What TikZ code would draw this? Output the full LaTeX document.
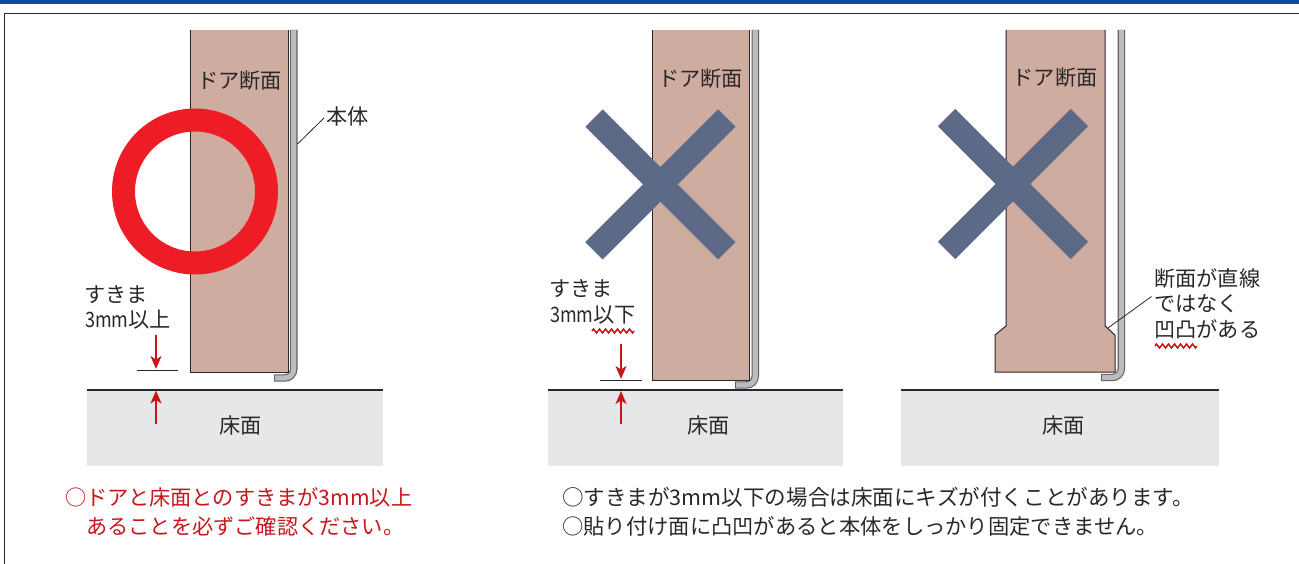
\documentclass[tikz,border=0pt]{standalone}
\usepackage{fontspec}
\setmainfont{Noto Sans CJK JP}
\usetikzlibrary{arrows.meta,decorations.pathmorphing}
\definecolor{barblue}{HTML}{0C4DA2}
\definecolor{doorc}{HTML}{CEADA0}
\definecolor{floorc}{HTML}{E6E7E8}
\definecolor{ink}{HTML}{2B2728}
\definecolor{ringred}{HTML}{EE1C25}
\definecolor{arrred}{HTML}{C8161D}
\definecolor{xblue}{HTML}{5D6A87}
\definecolor{stripc}{HTML}{BABCBF}
\tikzset{
  txt/.style={inner sep=0pt,text=ink,font=\fontsize{21.2pt}{25pt}\selectfont},
  redtxt/.style={txt,text=arrred},
  doorline/.style={draw=ink,line width=1pt},
  doorfill/.style={fill=doorc},
  thin leader/.style={draw=ink,line width=0.8pt},
  gaparrow/.style={draw=arrred,line width=1.6pt,-{Stealth[length=13pt,width=11pt,inset=3.5pt]}},
  wave/.style={draw=arrred,line width=1.5pt,decorate,decoration={zigzag,segment length=6pt,amplitude=2pt}},
  crossbar/.style={draw=xblue,line width=24.5pt},
  floorline/.style={draw=ink,line width=1.2pt},
}
\newcommand{\floorblock}[3]{%
  \fill[floorc] (#1,390) rectangle (#2,466);
  \draw[floorline] (#1,390) -- (#2,390);
  \node[txt] at (#3,425) {床面};}
\newcommand{\stripline}[3]{%
  \draw[ink!75,line width=7.4pt,rounded corners=9pt] (#1,30) -- (#1,#2) -- (#3,#2);
  \draw[stripc,line width=5.2pt,rounded corners=9pt,shorten >=1.1pt] (#1,30) -- (#1,#2) -- (#3,#2);}
\newcommand{\narrowmm}{\scalebox{0.85}[1]{3mm}}
\begin{document}
\begin{tikzpicture}[x=1pt,y=-1pt]
\useasboundingbox (0,0) rectangle (1299,564);
\fill[barblue] (0,0) rectangle (1299,4);
\draw[ink,line width=1.5pt] (4.5,564) -- (4.5,13.5) -- (1299,13.5);

% panel 1
\floorblock{87}{383}{240.5}
\stripline{293.8}{378}{274}
\fill[doorfill] (190,30) rectangle (288.5,372.5);
\draw[doorline] (190,30) -- (190,372.5) -- (288.5,372.5) -- (288.5,30);
\node[txt] (door1) at (239.5,81) {ドア断面};
\draw[ringred,line width=23pt] (195,191.5) circle[radius=71.5pt];
\node[txt,anchor=west] (body) at (326.5,116) {本体};
\coordinate (bodyedge) at (297.5,144);
\draw[thin leader] (bodyedge) -- (324,118);
\node[txt,anchor=west] (gapa) at (84,295) {すきま};
\node[txt,anchor=west] (gapb) at (85,320) {\narrowmm 以上};
\coordinate (t1a) at (137,370); \coordinate (t1b) at (178,370);
\draw[thin leader] (t1a) -- (t1b);
\coordinate (a1s) at (156,335); \coordinate (a1e) at (156,369);
\coordinate (a2s) at (156,424); \coordinate (a2e) at (156,390.5);
\draw[gaparrow] (a1s) -- (a1e);
\draw[gaparrow] (a2s) -- (a2e);

% panel 2
\floorblock{548}{843}{708.5}
\stripline{755.3}{385}{735}
\fill[doorfill] (652,30) rectangle (749.5,380);
\draw[doorline] (652,30) -- (652,380) -- (749.5,380) -- (749.5,30);
\node[txt] (door2) at (700.5,79) {ドア断面};
\draw[crossbar] (594,118) -- (726.8,250.8);
\draw[crossbar] (726.8,118) -- (594,250.8);
\node[txt,anchor=west] (gapc) at (549,289) {すきま};
\node[txt,anchor=west] (gapd) at (550,315) {\narrowmm 以下};
\draw[wave] (592,331) -- (634,331);
\coordinate (t2a) at (600,380); \coordinate (t2b) at (642,380);
\draw[thin leader] (t2a) -- (t2b);
\coordinate (a3s) at (621,344); \coordinate (a3e) at (621,379);
\coordinate (a4s) at (621,424); \coordinate (a4e) at (621,391);
\draw[gaparrow] (a3s) -- (a3e);
\draw[gaparrow] (a4s) -- (a4e);

% panel 3
\floorblock{901}{1219}{1063.5}
\stripline{1121.4}{377.5}{1101}
\path[doorfill] (1006,30) -- (1006,326) -- (995,335) -- (995,372) -- (1115,372) -- (1115,335) -- (1105,326) -- (1105,30) -- cycle;
\draw[doorline] (1006,30) -- (1006,326) -- (995,335) -- (995,372) -- (1115,372) -- (1115,335) -- (1105,326) -- (1105,30);
\node[txt] (door3) at (1055,78) {ドア断面};
\draw[crossbar] (946.6,117.6) -- (1079.4,250.4);
\draw[crossbar] (1079.4,117.6) -- (946.6,250.4);
\node[txt,anchor=west] (notea) at (1154,278) {断面が直線};
\node[txt,anchor=west] (noteb) at (1154,304) {ではなく};
\node[txt,anchor=west] (notec) at (1154,329) {凹凸がある};
\coordinate (lead3a) at (1151.5,296.5); \coordinate (lead3b) at (1108,328);
\draw[thin leader] (lead3a) -- (lead3b);
\draw[wave] (1155,346) -- (1197,346);

% captions
\node[redtxt,anchor=west] (cap1) at (65,497) {○ドアと床面とのすきまが3mm以上};
\node[redtxt,anchor=west] (cap2) at (86,526) {あることを必ずご確認ください。};
\node[txt,anchor=west,font=\fontsize{21.55pt}{25pt}\selectfont] (cap3) at (562,497) {○すきまが3mm以下の場合は床面にキズが付くことがあります。};
\node[txt,anchor=west,font=\fontsize{21.3pt}{25pt}\selectfont] (cap4) at (562,526) {○貼り付け面に凸凹があると本体をしっかり固定できません。};
\end{tikzpicture}
\end{document}
